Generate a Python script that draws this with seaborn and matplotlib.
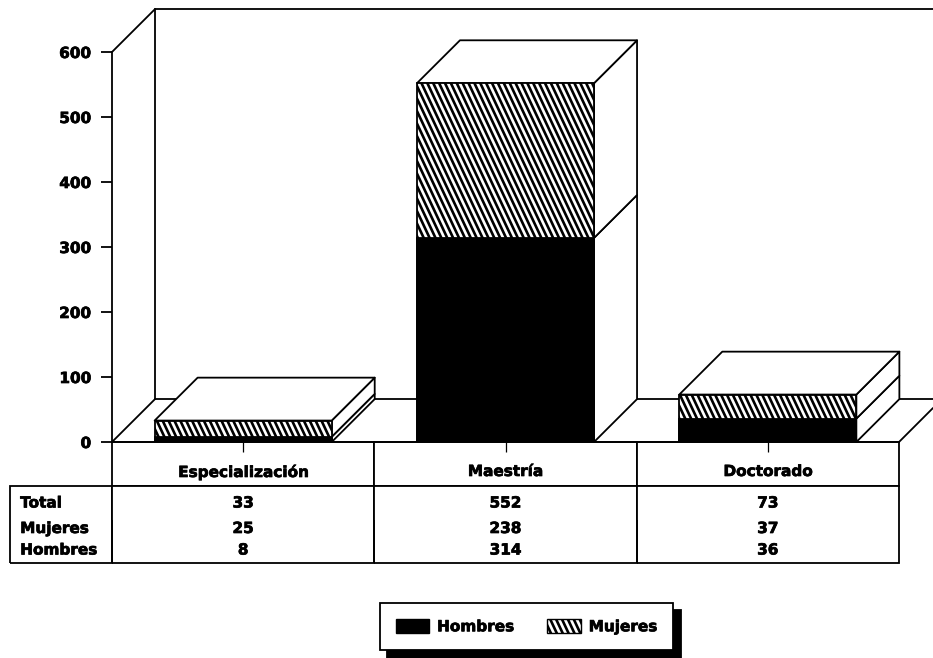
import matplotlib
matplotlib.use("Agg")
import matplotlib.pyplot as plt
import matplotlib.hatch as mhatch
import matplotlib.patheffects as pe
from matplotlib.patches import Patch, Polygon
from matplotlib.path import Path
import numpy as np
import seaborn as sns

categorias = ["Especialización", "Maestría", "Doctorado"]
total = [33, 552, 73]
mujeres = [25, 238, 37]
hombres = [8, 314, 36]
filas = ["Total", "Mujeres", "Hombres"]
ticks_y = [0, 100, 200, 300, 400, 500, 600]


# el rayado del original es mas vertical que los 45 grados de matplotlib
class RayaInclinada(mhatch.HatchPatternBase):
    N = 17
    K = 8

    def __init__(self, hatch, density):
        self.num_lines = self.N + self.K + 1 if "\\" in hatch else 0
        self.num_vertices = self.num_lines * 2

    def set_vertices_and_codes(self, vertices, codes):
        steps = np.linspace(-self.K / self.N, 1, self.num_lines)
        vertices[0::2, 0] = steps
        vertices[0::2, 1] = 1
        vertices[1::2, 0] = steps + self.K / self.N
        vertices[1::2, 1] = 0
        codes[0::2] = Path.MOVETO
        codes[1::2] = Path.LINETO


mhatch._hatch_types = [RayaInclinada if t is mhatch.SouthEastHatch else t
                       for t in mhatch._hatch_types]

sns.set_theme(style="white")
plt.rcParams['font.family'] = ['DejaVu Sans']
plt.rcParams['font.weight'] = 'bold'
plt.rcParams['hatch.linewidth'] = 1.9
LW = 1.3
FS = 11
grueso = [pe.withStroke(linewidth=0.5, foreground="black")]

fig = plt.figure(figsize=(9.33, 6.58), dpi=100)
ax = fig.add_axes([112 / 933, (658 - 442) / 658, 787 / 933, 390 / 658])

# profundidad del efecto 3D, en unidades de los ejes
dx = 43 / 262.33
dy = 66
ancho = 0.675

# caras frontales
sns.barplot(x=categorias, y=total, color="white", edgecolor="black", linewidth=LW,
            hatch="\\", saturation=1, width=ancho, zorder=3, ax=ax)
sns.barplot(x=categorias, y=hombres, color="black", edgecolor="black", linewidth=LW,
            saturation=1, width=ancho, zorder=3, ax=ax)

ax.set_xlim(-0.5, 2.5)
ax.set_ylim(0, 600)
ax.set_yticks(ticks_y)
ax.tick_params(axis="y", length=8, width=LW, color="black", left=True, pad=7,
               labelsize=FS, labelcolor="black")
ax.tick_params(axis="x", length=7.5, width=0.9, color="black", bottom=True, labelbottom=False)
ax.set_xlabel("")
for t in ax.get_yticklabels():
    t.set_path_effects(grueso)
sns.despine(ax=ax, top=True, right=True)
for s in ["left", "bottom"]:
    ax.spines[s].set_color("black")
    ax.spines[s].set_linewidth(LW)

# paredes y piso
x_fin = 2.5 + 34 / 262.33
linea = dict(color="black", lw=LW, clip_on=False, zorder=1)
ax.plot([-0.5, -0.5 + dx], [600, 600 + dy], **linea)
ax.plot([-0.5, -0.5 + dx], [0, dy], **linea)
ax.plot([-0.5 + dx, -0.5 + dx], [0 + dy, 600 + dy], **linea)
ax.plot([-0.5 + dx, x_fin], [600 + dy, 600 + dy], **linea)
ax.plot([-0.5 + dx, x_fin], [dy, dy], **linea)
ax.plot([2.5, x_fin], [0, 34 / 0.65], **linea)

# caras laterales y superior de cada barra
for i in range(len(categorias)):
    x0, x1 = i - ancho / 2, i + ancho / 2
    for base, alto in [(0, hombres[i]), (hombres[i], total[i])]:
        lado = [(x1, base), (x1 + dx, base + dy), (x1 + dx, alto + dy), (x1, alto)]
        ax.add_patch(Polygon(lado, fc="white", ec="black", lw=LW, clip_on=False,
                             joinstyle="round", zorder=2.5))
    techo = [(x0, total[i]), (x0 + dx, total[i] + dy), (x1 + dx, total[i] + dy), (x1, total[i])]
    ax.add_patch(Polygon(techo, fc="white", ec="black", lw=LW, clip_on=False,
                         joinstyle="round", zorder=2.5))

# tabla de datos
valores = [total, mujeres, hombres]
celdas = [[filas[k]] + [str(v) for v in valores[k]] for k in range(3)]
col_w = [102, 262.33, 262.33, 262.33]
tabla = ax.table(cellText=celdas, colLabels=[""] + categorias, colWidths=col_w,
                 cellLoc="center", bbox=[-102 / 787, -121 / 390, 889 / 787, 121 / 390])
tabla.auto_set_font_size(False)
tabla.set_fontsize(FS)
alturas = {0: 44, 1: 34, 2: 17, 3: 26}
bordes = {0: "closed", 1: "LRT", 2: "LR", 3: "LRB"}
for (r, c), celda in tabla.get_celld().items():
    celda.set_height(alturas[r])
    celda.set_linewidth(LW)
    celda.set_edgecolor("black")
    celda.visible_edges = bordes[r]
    celda.get_text().set_color("black")
    celda.get_text().set_path_effects(grueso)
    if r == 0:
        celda.set_text_props(va="top")
    if c == 0:
        celda.set_text_props(ha="left")
        celda.PAD = 0.1
        if r == 0:
            celda.visible_edges = ""

# leyenda
handles = [Patch(fc="black", ec="black", label="Hombres"),
           Patch(fc="white", ec="black", hatch="\\", label="Mujeres")]
ley = fig.legend(handles=handles, ncol=2, loc="center",
                 bbox_to_anchor=(526.5 / 933, (658 - 626.5) / 658),
                 fancybox=False, framealpha=1, edgecolor="black", facecolor="white",
                 shadow={"color": "black", "alpha": 1, "ox": 5.5, "oy": -5.5, "shade": 0},
                 fontsize=FS, labelcolor="black", handlelength=2.2, handleheight=1.1,
                 columnspacing=2.2, handletextpad=0.5, borderpad=1.05, borderaxespad=0)
ley.get_frame().set_linewidth(LW)
for t in ley.get_texts():
    t.set_path_effects(grueso)

fig.savefig("out.png", dpi=100)
